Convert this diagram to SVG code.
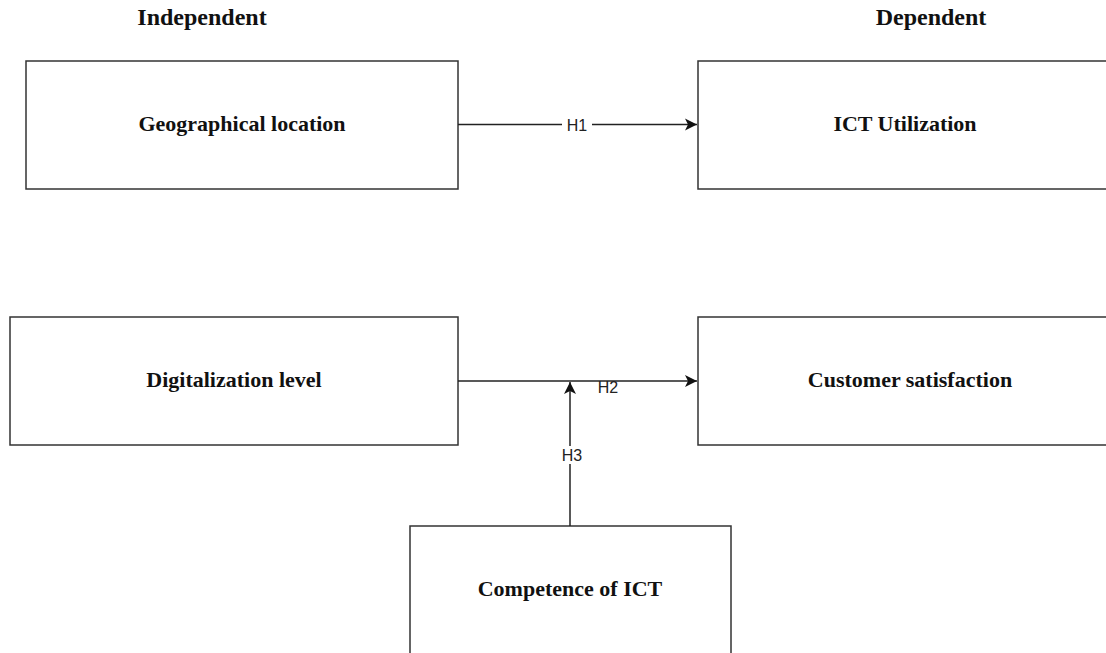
<svg xmlns="http://www.w3.org/2000/svg" width="1106" height="653" viewBox="0 0 1106 653">
<style>
.box{fill:#fff;stroke:#333;stroke-width:1.5}
.t{font-family:"Liberation Serif","Times New Roman",serif;font-weight:bold;font-size:22px;fill:#111;text-anchor:middle}
.h{font-size:24px}
.edge{fill:none;stroke:#222;stroke-width:1.5}
.lbl{font-family:"Liberation Sans",Arial,sans-serif;font-size:16px;fill:#222;text-anchor:middle}
</style>
<defs>
<marker id="arr" markerWidth="14" markerHeight="14" refX="13" refY="7" orient="auto" markerUnits="userSpaceOnUse">
<path d="M1,1 L13,7 L1,13 L4,7 Z" fill="#111"/>
</marker>
</defs>
<rect width="1106" height="653" fill="#fff"/>
<text class="t h" x="202" y="25">Independent</text>
<text class="t h" x="931" y="25">Dependent</text>
<g id="geo"><rect class="box" x="26" y="61" width="432" height="128"/><text class="t" x="242" y="131">Geographical location</text></g>
<g id="ict"><rect class="box" x="698" y="61" width="420" height="128"/><text class="t" x="905" y="131">ICT Utilization</text></g>
<g id="dig"><rect class="box" x="10" y="317" width="448" height="128"/><text class="t" x="234" y="387">Digitalization level</text></g>
<g id="cust"><rect class="box" x="698" y="317" width="420" height="128"/><text class="t" x="910" y="387">Customer satisfaction</text></g>
<g id="comp"><rect class="box" x="410" y="526" width="321" height="140"/><text class="t" x="570" y="596">Competence of ICT</text></g>
<g id="connectors">
<path class="edge" d="M458,124.5 H697" marker-end="url(#arr)"/>
<rect x="562" y="116" width="30" height="18" fill="#fff"/>
<text class="lbl" x="577" y="131">H1</text>
<path class="edge" d="M458,381 H697" marker-end="url(#arr)"/>
<rect x="593" y="382" width="29" height="14" fill="#fff"/>
<text class="lbl" x="608" y="393">H2</text>
<path class="edge" d="M570,526 V382" marker-end="url(#arr)"/>
<rect x="560" y="446" width="24" height="18" fill="#fff"/>
<text class="lbl" x="572" y="461">H3</text>
</g>
</svg>
